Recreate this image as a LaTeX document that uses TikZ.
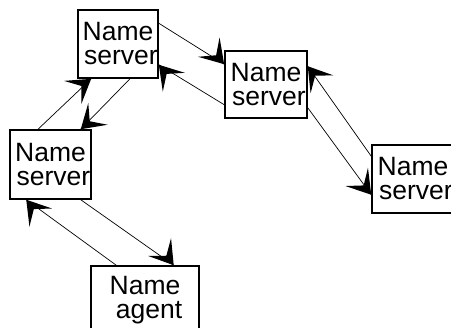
\documentclass[tikz,border=0pt]{standalone}
\usepackage{fontspec}
\setmainfont{Liberation Sans}
\usetikzlibrary{decorations.markings}

\tikzset{
  srvbox/.style={draw, line width=1.5pt, inner sep=0pt, align=center,
    minimum width=80pt, minimum height=68pt,
    font=\fontsize{26.5}{24}\selectfont},
  link/.style={line width=0.7pt},
  % barbed head at the end of a link, turned by #1 degrees
  barbhead/.style={postaction={decorate, decoration={markings,
    mark=at position 1 with {\fill[rotate=#1]
      (0,0) -- (-23pt,14.5pt) -- (-12pt,0pt) -- (-23pt,-14.5pt) -- cycle;}}}}
}

\begin{document}
\begin{tikzpicture}[x=1pt, y=1pt]
  \useasboundingbox (0,0) rectangle (451,328);

  \node[srvbox] (A) at (118,284) {Name\\\hspace*{6pt}server};
  \node[srvbox, minimum width=82pt, minimum height=67pt] (B) at (266,243.5) {Name\\\hspace*{6pt}server};
  \node[srvbox, minimum width=82pt] (C) at (413,149) {Name\\\hspace*{6pt}server};
  \node[srvbox, minimum width=81pt, minimum height=69pt] (D) at (50.5,163.5) {Name\\\hspace*{6pt}server};
  \node[srvbox, minimum width=108pt] (E) at (145,28) {Name\\\hspace*{8pt}agent};

  % links between the servers and the agent
  \draw[link, barbhead=-16] ([yshift=-14pt]A.north east) -- ([yshift=-14pt]B.north west);
  \draw[link, barbhead=-18] ([yshift=14pt]B.south west) -- ([yshift=14pt]A.south east);
  \draw[link, barbhead=-4]  ([xshift=12pt]A.south) -- ([xshift=-11pt]D.north east);
  \draw[link, barbhead=-7]  ([xshift=-12.5pt]D.north) -- ([xshift=14pt]A.south west);
  \draw[link, barbhead=3]   ([yshift=11pt]B.south east) -- ([yshift=19pt]C.south west);
  \draw[link, barbhead=3]   ([yshift=-12pt]C.north west) -- ([yshift=-16pt]B.north east);
  \draw[link, barbhead=-17] ([xshift=-11pt]D.south east) -- ([xshift=-26pt]E.north east);
  \draw[link, barbhead=-15] ([xshift=26pt]E.north west) -- ([xshift=17pt]D.south west);
\end{tikzpicture}
\end{document}
